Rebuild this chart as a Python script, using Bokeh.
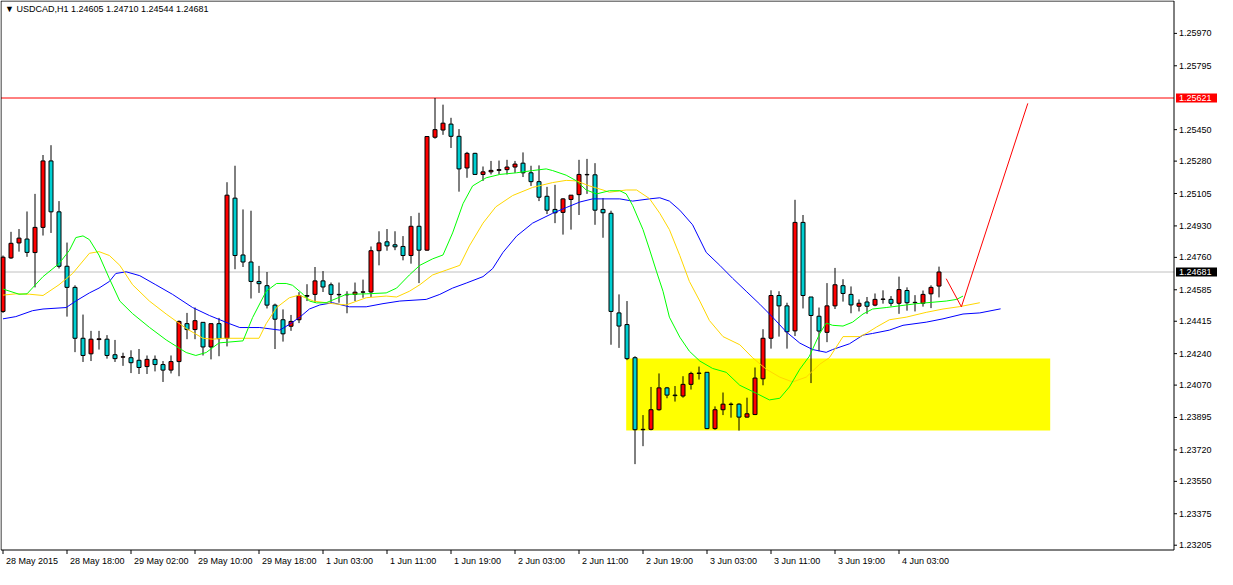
import numpy as np
from bokeh.plotting import figure
from bokeh.models import Range1d, ColumnDataSource
from bokeh.embed import file_html
from bokeh.resources import INLINE

# ---------------- data ----------------
symbol_title = "\u25bc USDCAD,H1  1.24605 1.24710 1.24544 1.24681"

opens = [1.24468, 1.24757, 1.24838, 1.24859, 1.24786, 1.24922, 1.25281, 1.25006, 1.24712, 1.24598,
         1.24323, 1.24239, 1.24316, 1.24318, 1.24234, 1.24221, 1.24218, 1.24204, 1.24170, 1.24209,
         1.24181, 1.24151, 1.24197, 1.24402, 1.24370, 1.24409, 1.24276, 1.24402, 1.24323, 1.25080,
         1.24773, 1.24735, 1.24630, 1.24607, 1.24502, 1.24423, 1.24388, 1.24423, 1.24554, 1.24560,
         1.24633, 1.24612, 1.24560, 1.24558, 1.24560, 1.24572, 1.24573, 1.24796, 1.24844, 1.24828,
         1.24819, 1.24770, 1.24928, 1.24799, 1.25409, 1.25448, 1.25480, 1.25414, 1.25243, 1.25322,
         1.25208, 1.25222, 1.25230, 1.25234, 1.25248, 1.25269, 1.25217, 1.25169, 1.25090, 1.25019,
         1.25003, 1.25073, 1.25099, 1.25208, 1.25206, 1.25019, 1.24998, 1.24460, 1.24397, 1.24218,
         1.23829, 1.23831, 1.23937, 1.24055, 1.24016, 1.24011, 1.24074, 1.24133, 1.24139, 1.23835,
         1.23937, 1.23967, 1.23967, 1.23897, 1.23911, 1.24104, 1.24323, 1.24554, 1.24498, 1.24363,
         1.24949, 1.24546, 1.24442, 1.24355, 1.24498, 1.24607, 1.24560, 1.24496, 1.24519, 1.24502,
         1.24533, 1.24533, 1.24512, 1.24581, 1.24515, 1.24512, 1.24563, 1.24605]
highs = [1.24770, 1.24898, 1.24913, 1.25008, 1.25103, 1.25313, 1.25366, 1.25064, 1.24840, 1.24609,
         1.24451, 1.24363, 1.24363, 1.24340, 1.24314, 1.24245, 1.24258, 1.24265, 1.24230, 1.24230,
         1.24200, 1.24230, 1.24419, 1.24460, 1.24489, 1.24409, 1.24402, 1.24433, 1.25166, 1.25255,
         1.25019, 1.25012, 1.24714, 1.24681, 1.24510, 1.24479, 1.24449, 1.24572, 1.24615, 1.24708,
         1.24686, 1.24624, 1.24624, 1.24577, 1.24624, 1.24640, 1.24819, 1.24901, 1.24913, 1.24901,
         1.24875, 1.24983, 1.25001, 1.25415, 1.25621, 1.25585, 1.25514, 1.25453, 1.25330, 1.25325,
         1.25251, 1.25281, 1.25283, 1.25287, 1.25281, 1.25327, 1.25255, 1.25257, 1.25141, 1.25152,
         1.25080, 1.25096, 1.25287, 1.25292, 1.25269, 1.25080, 1.25012, 1.24560, 1.24524, 1.24226,
         1.23908, 1.24060, 1.24133, 1.24060, 1.24065, 1.24118, 1.24142, 1.24170, 1.24139, 1.23955,
         1.24030, 1.23976, 1.23972, 1.24002, 1.24165, 1.24372, 1.24582, 1.24577, 1.24515, 1.25071,
         1.24989, 1.24546, 1.24489, 1.24621, 1.24703, 1.24642, 1.24603, 1.24533, 1.24546, 1.24565,
         1.24582, 1.24551, 1.24656, 1.24598, 1.24556, 1.24581, 1.24609, 1.24710]
lows = [1.24460, 1.24752, 1.24791, 1.24763, 1.24598, 1.24878, 1.24892, 1.24700, 1.24440, 1.24248,
        1.24195, 1.24200, 1.24262, 1.24213, 1.24195, 1.24174, 1.24135, 1.24130, 1.24130, 1.24144,
        1.24087, 1.24133, 1.24118, 1.24318, 1.24318, 1.24230, 1.24209, 1.24226, 1.24279, 1.24696,
        1.24708, 1.24538, 1.24568, 1.24484, 1.24265, 1.24305, 1.24363, 1.24405, 1.24524, 1.24515,
        1.24573, 1.24515, 1.24515, 1.24458, 1.24524, 1.24542, 1.24546, 1.24717, 1.24796, 1.24799,
        1.24744, 1.24726, 1.24621, 1.24797, 1.25401, 1.25422, 1.25351, 1.25115, 1.25190, 1.25205,
        1.25173, 1.25208, 1.25208, 1.25208, 1.25217, 1.25194, 1.25146, 1.25064, 1.24994, 1.24945,
        1.24883, 1.24910, 1.24989, 1.25103, 1.24936, 1.24866, 1.24288, 1.24271, 1.24205, 1.23643,
        1.23740, 1.23826, 1.23932, 1.23999, 1.23981, 1.24002, 1.24046, 1.24100, 1.23832, 1.23829,
        1.23908, 1.23894, 1.23824, 1.23895, 1.23908, 1.24069, 1.24267, 1.24332, 1.24267, 1.24335,
        1.24484, 1.24081, 1.24253, 1.24302, 1.24481, 1.24521, 1.24458, 1.24468, 1.24455, 1.24496,
        1.24510, 1.24496, 1.24455, 1.24472, 1.24468, 1.24494, 1.24486, 1.24544]
closes = [1.24761, 1.24836, 1.24864, 1.24787, 1.24922, 1.25281, 1.25006, 1.24712, 1.24598, 1.24323,
          1.24230, 1.24318, 1.24320, 1.24230, 1.24213, 1.24223, 1.24191, 1.24165, 1.24209, 1.24181,
          1.24151, 1.24197, 1.24414, 1.24370, 1.24418, 1.24276, 1.24402, 1.24321, 1.25096, 1.24770,
          1.24735, 1.24630, 1.24618, 1.24502, 1.24426, 1.24347, 1.24414, 1.24554, 1.24550, 1.24633,
          1.24600, 1.24560, 1.24558, 1.24560, 1.24572, 1.24573, 1.24796, 1.24838, 1.24822, 1.24817,
          1.24770, 1.24928, 1.24799, 1.25413, 1.25450, 1.25485, 1.25414, 1.25238, 1.25322, 1.25208,
          1.25222, 1.25230, 1.25234, 1.25248, 1.25264, 1.25217, 1.25169, 1.25085, 1.25015, 1.25001,
          1.25076, 1.25096, 1.25208, 1.25206, 1.25015, 1.25001, 1.24468, 1.24389, 1.24213, 1.23829,
          1.23831, 1.23937, 1.24055, 1.24016, 1.24013, 1.24074, 1.24133, 1.24135, 1.23835, 1.23937,
          1.23967, 1.23965, 1.23897, 1.23915, 1.24108, 1.24323, 1.24554, 1.24498, 1.24358, 1.24949,
          1.24554, 1.24446, 1.24362, 1.24498, 1.24612, 1.24565, 1.24503, 1.24512, 1.24496, 1.24533,
          1.24535, 1.24512, 1.24586, 1.24515, 1.24517, 1.24560, 1.24598, 1.24681]

# moving averages (bar position, price)
green_x = [0, 2, 3, 5, 7, 8.3, 9.1, 10, 10.8, 12, 13.3, 14.6, 16.2, 18.3, 20.4, 22.9, 24.1, 25.4, 27, 30,
           31.2, 32.9, 34.2, 35.4, 36.2, 37.5, 38.3, 39.2, 40.4, 42.9, 45.4, 47.9, 49.2, 50.8, 52.1, 53.7,
           55, 56.2, 57.5, 58.7, 60.4, 62.1, 64.2, 66.2, 67.9, 68.7, 70.4, 71.7, 72.9, 74.2, 75.8, 77.1,
           77.9, 78.7, 80, 80.8, 81.7, 82.5, 83.3, 84.6, 85.8, 87.1, 88.7, 90.4, 92.1, 94.2, 95.8, 97.1,
           98.3, 99.6, 100.8, 102.1, 102.9, 103.7, 105, 106.2, 107.5, 108.7, 110.4, 114.2, 117.9, 119.2, 120]
green_ma = [1.24589, 1.24561, 1.24563, 1.24656, 1.24726, 1.24798, 1.24867, 1.24876, 1.24856, 1.24772,
            1.24645, 1.24524, 1.24456, 1.24382, 1.24314, 1.24246, 1.24230, 1.24246, 1.24298, 1.24309,
            1.24435, 1.24577, 1.24619, 1.24619, 1.24609, 1.24561, 1.24524, 1.24514, 1.24515, 1.24560,
            1.24563, 1.24568, 1.24594, 1.24665, 1.24717, 1.24752, 1.24773, 1.24892, 1.25050, 1.25146,
            1.25190, 1.25208, 1.25217, 1.25229, 1.25238, 1.25229, 1.25204, 1.25173, 1.25124, 1.25103,
            1.25120, 1.25120, 1.25103, 1.25041, 1.24910, 1.24805, 1.24682, 1.24577, 1.24437, 1.24329,
            1.24253, 1.24200, 1.24160, 1.24139, 1.24069, 1.24025, 1.23990, 1.23999, 1.24060, 1.24156,
            1.24226, 1.24349, 1.24405, 1.24393, 1.24389, 1.24410, 1.24454, 1.24481, 1.24489, 1.24510,
            1.24524, 1.24533, 1.24551]
gold_x = [0, 1.6, 3.3, 5, 7, 8.7, 10.8, 12, 13.3, 14.6, 16.2, 18.3, 20.4, 22.9, 25, 26.2, 27.5, 30, 32,
          32.9, 34.2, 35.8, 37, 38.8, 41.2, 42.9, 45.4, 47.9, 49.2, 50.8, 52.1, 53.7, 55.4, 57.1, 58.3, 60,
          61.6, 63.7, 66.2, 68.7, 70.4, 71.7, 73.3, 75, 75.8, 77.9, 79.2, 80.8, 82.1, 83.3, 84.6, 85.8,
          87.1, 88.3, 90, 92.1, 93.7, 95.4, 97.1, 98.7, 100.4, 102.1, 103.3, 105, 107.1, 107.9, 109.2,
          110.8, 112.9, 115.4, 117.5, 119.6, 122.1]
gold_ma = [1.24556, 1.24563, 1.24561, 1.24554, 1.24612, 1.24673, 1.24782, 1.24791, 1.24770, 1.24717,
           1.24612, 1.24524, 1.24454, 1.24376, 1.24323, 1.24318, 1.24323, 1.24323, 1.24323, 1.24402,
           1.24489, 1.24542, 1.24556, 1.24524, 1.24510, 1.24503, 1.24542, 1.24551, 1.24546, 1.24577,
           1.24612, 1.24665, 1.24691, 1.24717, 1.24822, 1.24945, 1.25033, 1.25094, 1.25138, 1.25164,
           1.25176, 1.25173, 1.25146, 1.25124, 1.25112, 1.25124, 1.25124, 1.25078, 1.24998, 1.24910,
           1.24770, 1.24630, 1.24524, 1.24419, 1.24332, 1.24288, 1.24218, 1.24156, 1.24113, 1.24087,
           1.24113, 1.24183, 1.24218, 1.24332, 1.24332, 1.24349, 1.24384, 1.24423, 1.24437, 1.24463,
           1.24481, 1.24494, 1.24515]
blue_x = [0, 1.6, 3.7, 5, 7.9, 9.1, 10.8, 12, 13.3, 14.1, 15.4, 17.1, 19.1, 21.2, 23.7, 25.8, 28.3, 29.6,
          32.1, 34.6, 35.8, 37.1, 38.3, 39.6, 41.2, 43.3, 45.4, 47.5, 49.6, 52.9, 54.6, 56.2, 57.9, 60,
          61.2, 62.5, 64.2, 66.2, 68.7, 70.4, 72.1, 73.7, 75, 77.1, 78.7, 80.8, 82.1, 83.3, 84.6, 86.2,
          87.9, 89.6, 91.2, 92.9, 94.6, 96.2, 97.9, 99.6, 101.2, 102.9, 103.7, 105.8, 107.5, 108.7, 110.8,
          112.5, 115.4, 117.5, 120, 122.1, 124.7]
blue_ma = [1.24428, 1.24440, 1.24472, 1.24481, 1.24489, 1.24524, 1.24568, 1.24594, 1.24630, 1.24673,
           1.24682, 1.24661, 1.24612, 1.24560, 1.24489, 1.24446, 1.24402, 1.24381, 1.24381, 1.24367,
           1.24398, 1.24437, 1.24481, 1.24503, 1.24515, 1.24493, 1.24493, 1.24510, 1.24524, 1.24533,
           1.24560, 1.24594, 1.24621, 1.24656, 1.24699, 1.24787, 1.24875, 1.24945, 1.24998, 1.25029,
           1.25059, 1.25076, 1.25076, 1.25076, 1.25064, 1.25076, 1.25082, 1.25064, 1.25015, 1.24936,
           1.24787, 1.24717, 1.24647, 1.24577, 1.24507, 1.24437, 1.24358, 1.24297, 1.24262, 1.24247,
           1.24262, 1.24293, 1.24340, 1.24349, 1.24367, 1.24393, 1.24410, 1.24428, 1.24454, 1.24460,
           1.24482]

# drawn objects
resistance_level = 1.25621
bid_level = 1.24681
zone_left_bar, zone_right_bar = 77.9, 130.9
zone_low, zone_high = 1.23825, 1.24214
forecast_x = [117.9, 119.8, 128.1]
forecast_y = [1.24645, 1.24493, 1.25592]

price_ticks = [1.25970, 1.25795, 1.25450, 1.25280, 1.25105, 1.24930, 1.24760, 1.24585, 1.24415,
               1.24240, 1.24070, 1.23895, 1.23720, 1.23550, 1.23375, 1.23205]
time_ticks = [0, 8, 16, 24, 32, 40, 48, 56, 64, 72, 80, 88, 96, 104, 112]
time_labels = ["28 May 2015", "28 May 18:00", "29 May 02:00", "29 May 10:00", "29 May 18:00",
               "1 Jun 03:00", "1 Jun 11:00", "1 Jun 19:00", "2 Jun 03:00", "2 Jun 11:00",
               "2 Jun 19:00", "3 Jun 03:00", "3 Jun 11:00", "3 Jun 19:00", "4 Jun 03:00"]

# ---------------- layout (MetaTrader style: price scale on the right) ----------------
FONT = "Liberation Sans"
FSIZE = "9px"
W, H = 1217, 569
PXB = 8.0                        # pixels per bar
X_START = -2.5 / PXB             # bar 0 sits 2.5 px from the left edge
X_END = X_START + W / PXB
X_LEFT = X_START + 0.5 / PXB     # left frame line
X_AXIS = X_START + 1173.5 / PXB  # price-scale line
S = 0.0094 / 174.0               # price per pixel
Y_TOP = 1.25621 + 97 * S         # price at the top frame line (y = 0.5 px)
Y_BOT = Y_TOP - 549 * S          # price at the bottom frame line
Y_START = Y_BOT - 19.5 * S
Y_END = Y_TOP + 0.5 * S

p = figure(width=W, height=H, x_range=Range1d(X_START, X_END), y_range=Range1d(Y_START, Y_END),
           x_axis_location=None, y_axis_location=None, output_backend="svg",
           toolbar_location=None, min_border=0)
p.grid.visible = False
p.outline_line_color = None
p.background_fill_color = "white"
p.border_fill_color = "white"

# yellow zone
p.quad(left=[zone_left_bar], right=[zone_right_bar], bottom=[zone_low], top=[zone_high],
       fill_color="#FFFF00", line_color=None)

# level lines
p.segment(x0=[X_LEFT], y0=[bid_level], x1=[X_AXIS], y1=[bid_level], line_color="#C0C0C0", line_width=1)
p.segment(x0=[X_LEFT], y0=[resistance_level], x1=[X_AXIS], y1=[resistance_level],
          line_color="#FF0000", line_width=1)

# candles
o = np.array(opens); h = np.array(highs); l = np.array(lows); c = np.array(closes)
bars = np.arange(len(o))
bot = np.minimum(o, c)
top = np.maximum(np.maximum(o, c), bot + 0.3 * S)
cols = np.where(c >= o, "#FF0000", "#00CED1")
src = ColumnDataSource(dict(x=bars, o=o, h=h, l=l, c=c, top=top, bot=bot, col=cols))
p.segment(x0="x", y0="l", x1="x", y1="h", source=src, line_color="black", line_width=1)
p.vbar(x="x", width=0.5, top="top", bottom="bot", source=src, fill_color="col",
       line_color="black", line_width=1)

# moving averages
p.line(blue_x, blue_ma, line_color="#0000FF", line_width=1)
p.line(gold_x, gold_ma, line_color="#FFD700", line_width=1)
p.line(green_x, green_ma, line_color="#00FF00", line_width=1)

# forecast path
p.line(forecast_x, forecast_y, line_color="#FF0000", line_width=1)

# frame: left, top, bottom lines and the price-scale line
p.segment(x0=[X_LEFT, X_LEFT, X_LEFT, X_AXIS], y0=[Y_BOT, Y_TOP, Y_BOT, Y_BOT],
          x1=[X_LEFT, X_AXIS, X_AXIS, X_AXIS], y1=[Y_TOP, Y_TOP, Y_BOT, Y_TOP],
          line_color="black", line_width=1)

# price scale: tick marks and labels
pt = np.array(price_ticks)
p.segment(x0=[X_AXIS] * len(pt), y0=pt, x1=[X_AXIS + 3 / PXB] * len(pt), y1=pt,
          line_color="black", line_width=1)
p.text(x=[X_AXIS + 5 / PXB] * len(pt), y=pt, text=["%.5f" % v for v in pt],
       text_font={"value": FONT}, text_font_size=FSIZE, text_color="black",
       text_baseline="middle", text_align="left")

# price boxes on the scale
lv = [resistance_level, bid_level]
p.quad(left=[X_AXIS + 2 / PXB] * 2, right=[X_END] * 2,
       bottom=[v - 4.5 * S for v in lv], top=[v + 4.5 * S for v in lv],
       fill_color=["#FF0000", "#000000"], line_color=None)
p.text(x=[X_AXIS + 5 / PXB] * 2, y=lv, text=["%.5f" % v for v in lv],
       text_font={"value": FONT}, text_font_size=FSIZE, text_color="white",
       text_baseline="middle", text_align="left")

# time scale: tick marks and labels
tt = np.array(time_ticks, dtype=float)
p.segment(x0=tt, y0=[Y_BOT] * len(tt), x1=tt, y1=[Y_BOT - 4 * S] * len(tt),
          line_color="black", line_width=1)
p.text(x=tt + 3 / PXB, y=[Y_BOT - 6 * S] * len(tt), text=time_labels,
       text_font={"value": FONT}, text_font_size=FSIZE, text_color="black",
       text_baseline="top", text_align="left")

# title
p.text(x=[X_LEFT + 4 / PXB], y=[Y_TOP - 3 * S], text=[symbol_title],
       text_font={"value": FONT}, text_font_size=FSIZE, text_color="black",
       text_baseline="top", text_align="left")

open("out.html", "w").write(file_html(p, INLINE))
